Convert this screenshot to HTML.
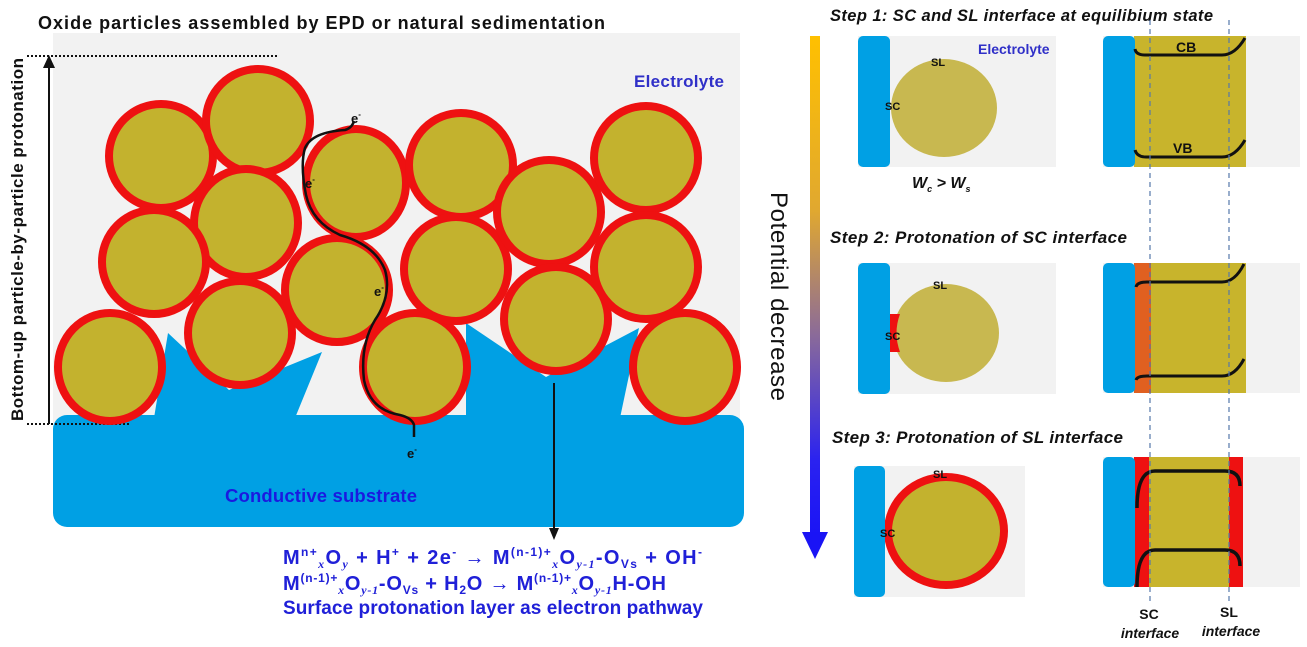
<!DOCTYPE html>
<html><head><meta charset="utf-8"><style>
html,body{margin:0;padding:0;background:#fff;}
svg{display:block;}
text{font-family:"Liberation Sans",Arial,sans-serif;}
.b{font-weight:bold;}
.it{font-style:italic;font-weight:bold;}
</style></head><body>
<svg width="1307" height="647" viewBox="0 0 1307 647" xmlns="http://www.w3.org/2000/svg">
<defs>
<linearGradient id="pg" x1="0" y1="0" x2="0" y2="1">
<stop offset="0" stop-color="#ffc000"/>
<stop offset="0.35" stop-color="#e0a830"/>
<stop offset="0.6" stop-color="#8a6a9a"/>
<stop offset="0.85" stop-color="#2a22f0"/>
<stop offset="1" stop-color="#1a14f5"/>
</linearGradient>
</defs>
<!-- LEFT PANEL -->
<rect x="53" y="33" width="687" height="390" fill="#f2f2f2"/>
<text x="38" y="29" class="b" font-size="18" textLength="567" fill="#111">Oxide particles assembled by EPD or natural sedimentation</text>
<rect x="53" y="415" width="691" height="112" rx="14" fill="#00a0e4"/>
<polygon points="154,418 168,333 229,390 322,352 295,418" fill="#00a0e4"/>
<polygon points="466,418 466,323 546,377 639,328 620,418" fill="#00a0e4"/>
<line x1="27" y1="56" x2="278" y2="56" stroke="#111" stroke-width="2" stroke-dasharray="2,2"/>
<line x1="27" y1="424" x2="130" y2="424" stroke="#111" stroke-width="2" stroke-dasharray="2,2"/>
<line x1="49" y1="424" x2="49" y2="62" stroke="#111" stroke-width="2"/>
<polygon points="49,55 43,68 55,68" fill="#111"/>
<text transform="translate(23,421) rotate(-90)" class="b" font-size="17" textLength="363" fill="#111">Bottom-up particle-by-particle protonation</text>
<text x="634" y="87" class="b" font-size="17" textLength="90" fill="#3030c8">Electrolyte</text>
<g fill="#c3b22e" stroke="#ee1111" stroke-width="8">
<ellipse cx="110" cy="367" rx="52" ry="54"/>
<ellipse cx="161" cy="156" rx="52" ry="52"/>
<ellipse cx="258" cy="121" rx="52" ry="52"/>
<ellipse cx="246" cy="223" rx="52" ry="54"/>
<ellipse cx="154" cy="262" rx="52" ry="52"/>
<ellipse cx="240" cy="333" rx="52" ry="52"/>
<ellipse cx="356" cy="183" rx="50" ry="54"/>
<ellipse cx="337" cy="290" rx="52" ry="52"/>
<ellipse cx="415" cy="367" rx="52" ry="54"/>
<ellipse cx="461" cy="165" rx="52" ry="52"/>
<ellipse cx="456" cy="269" rx="52" ry="52"/>
<ellipse cx="549" cy="212" rx="52" ry="52"/>
<ellipse cx="556" cy="319" rx="52" ry="52"/>
<ellipse cx="646" cy="158" rx="52" ry="52"/>
<ellipse cx="646" cy="267" rx="52" ry="52"/>
<ellipse cx="685" cy="367" rx="52" ry="54"/>
</g>
<path d="M414,437 L414,425 Q412,418 400,415 Q370,410 364,380 Q360,345 375,320 Q392,295 385,270 Q375,245 340,235 Q312,222 306,195 Q300,165 305,148 Q312,132 345,130 Q352,128 354,121" fill="none" stroke="#111" stroke-width="2.5"/>
<g class="b" font-size="13" fill="#111">
<text x="351" y="123">e<tspan font-size="8" dy="-6">-</tspan></text>
<text x="305" y="188">e<tspan font-size="8" dy="-6">-</tspan></text>
<text x="374" y="296">e<tspan font-size="8" dy="-6">-</tspan></text>
<text x="407" y="458">e<tspan font-size="8" dy="-6">-</tspan></text>
</g>
<text x="225" y="502" class="b" font-size="18.5" textLength="192" fill="#1a1ae0">Conductive substrate</text>
<line x1="554" y1="383" x2="554" y2="532" stroke="#111" stroke-width="2"/>
<polygon points="554,540 549,528 559,528" fill="#111"/>
<g class="b" fill="#2020d8" font-size="20">
<text x="283" y="564" textLength="419">M<tspan font-size="12" dy="-8">n+</tspan><tspan font-size="12" dy="12" font-family="Liberation Serif" font-style="italic">x</tspan><tspan dy="-4">O</tspan><tspan font-size="12" dy="4" font-family="Liberation Serif" font-style="italic">y</tspan><tspan dy="-4">  +  H</tspan><tspan font-size="12" dy="-8">+</tspan><tspan dy="8">  +  2e</tspan><tspan font-size="12" dy="-8">-</tspan><tspan dy="8">  →   M</tspan><tspan font-size="12" dy="-8">(n-1)+</tspan><tspan font-size="12" dy="12" font-family="Liberation Serif" font-style="italic">x</tspan><tspan dy="-4">O</tspan><tspan font-size="12" dy="4" font-family="Liberation Serif" font-style="italic">y-1</tspan><tspan dy="-4">-O</tspan><tspan font-size="12" dy="4">Vs</tspan><tspan dy="-4"> + OH</tspan><tspan font-size="12" dy="-8">-</tspan></text>
<text x="283" y="590" textLength="383">M<tspan font-size="12" dy="-8">(n-1)+</tspan><tspan font-size="12" dy="12" font-family="Liberation Serif" font-style="italic">x</tspan><tspan dy="-4">O</tspan><tspan font-size="12" dy="4" font-family="Liberation Serif" font-style="italic">y-1</tspan><tspan dy="-4">-O</tspan><tspan font-size="12" dy="4">Vs</tspan><tspan dy="-4"> + H</tspan><tspan font-size="12" dy="4">2</tspan><tspan dy="-4">O  →  M</tspan><tspan font-size="12" dy="-8">(n-1)+</tspan><tspan font-size="12" dy="12" font-family="Liberation Serif" font-style="italic">x</tspan><tspan dy="-4">O</tspan><tspan font-size="12" dy="4" font-family="Liberation Serif" font-style="italic">y-1</tspan><tspan dy="-4">H-OH</tspan></text>
<text x="283" y="614" font-size="19" textLength="420">Surface protonation layer as electron pathway</text>
</g>

<!-- RIGHT PANEL -->
<rect x="810" y="36" width="10" height="500" fill="url(#pg)"/>
<polygon points="802,532 828,532 815,559" fill="#1a14f5"/>
<text transform="translate(771,192) rotate(90)" font-size="24" textLength="209" fill="#111">Potential decrease</text>

<text x="830" y="21" class="it" font-size="16.5" textLength="383" fill="#111">Step 1:  SC and SL interface at equilibium state</text>
<text x="830" y="243" class="it" font-size="17" textLength="297" fill="#111">Step 2:  Protonation of SC  interface</text>
<text x="832" y="443" class="it" font-size="17" textLength="291" fill="#111">Step 3:  Protonation of SL interface</text>

<!-- panel 1 left -->
<rect x="858" y="36" width="198" height="131" fill="#f2f2f2"/>
<ellipse cx="944" cy="108" rx="53" ry="49" fill="#c8b850"/>
<rect x="858" y="36" width="32" height="131" rx="5" fill="#00a0e4"/>
<text x="978" y="54" class="b" font-size="14" fill="#3030c8">Electrolyte</text>
<text x="931" y="66" class="b" font-size="11" fill="#111">SL</text>
<text x="885" y="110" class="b" font-size="11" fill="#111">SC</text>
<text x="912" y="188" class="it" font-size="16" fill="#111">W<tspan font-size="9" dy="4">c</tspan><tspan dy="-4"> &gt; W</tspan><tspan font-size="9" dy="4">s</tspan></text>
<!-- panel 1 right -->
<rect x="1103" y="36" width="197" height="131" fill="#f2f2f2"/>
<rect x="1134" y="36" width="112" height="131" fill="#c8b42c"/>
<rect x="1103" y="36" width="32" height="131" rx="5" fill="#00a0e4"/>
<path d="M1135,49 Q1136,55 1145,55 L1222,55 Q1235,55 1245,38" fill="none" stroke="#111" stroke-width="3"/>
<path d="M1135,150 Q1137,157 1146,157 L1222,157 Q1235,157 1245,140" fill="none" stroke="#111" stroke-width="3"/>
<text x="1176" y="52" class="b" font-size="14" fill="#111">CB</text>
<text x="1173" y="153" class="b" font-size="14" fill="#111">VB</text>

<!-- panel 2 left -->
<rect x="858" y="263" width="198" height="131" fill="#f2f2f2"/>
<ellipse cx="946" cy="333" rx="53" ry="49" fill="#c8b850"/>
<path d="M900,314 Q893,333 900,352 L890,352 L890,314 Z" fill="#ee1111"/>
<rect x="858" y="263" width="32" height="131" rx="5" fill="#00a0e4"/>
<text x="933" y="289" class="b" font-size="11" fill="#111">SL</text>
<text x="885" y="340" class="b" font-size="11" fill="#111">SC</text>
<!-- panel 2 right -->
<rect x="1103" y="263" width="197" height="130" fill="#f2f2f2"/>
<rect x="1134" y="263" width="112" height="130" fill="#c8b42c"/>
<rect x="1134" y="263" width="17" height="130" fill="#e06020"/>
<rect x="1103" y="263" width="32" height="130" rx="5" fill="#00a0e4"/>
<path d="M1136,287 Q1137,282 1147,282 L1222,282 Q1235,282 1244,264" fill="none" stroke="#111" stroke-width="3"/>
<path d="M1136,380 Q1137,376 1147,376 L1222,376 Q1235,376 1244,359" fill="none" stroke="#111" stroke-width="3"/>

<!-- panel 3 left -->
<rect x="854" y="466" width="171" height="131" fill="#f2f2f2"/>
<ellipse cx="946" cy="531" rx="58" ry="54" fill="#c3b22e" stroke="#ee1111" stroke-width="8"/>
<rect x="854" y="466" width="31" height="131" rx="5" fill="#00a0e4"/>
<text x="933" y="478" class="b" font-size="11" fill="#111">SL</text>
<text x="880" y="537" class="b" font-size="11" fill="#111">SC</text>
<!-- panel 3 right -->
<rect x="1103" y="457" width="197" height="130" fill="#f2f2f2"/>
<rect x="1134" y="457" width="109" height="130" fill="#ee1111"/>
<rect x="1149" y="457" width="80" height="130" fill="#c8b42c"/>
<rect x="1103" y="457" width="32" height="130" rx="5" fill="#00a0e4"/>
<path d="M1137,508 Q1137,471 1155,471 L1225,471 Q1240,471 1240,486" fill="none" stroke="#111" stroke-width="3.5"/>
<path d="M1137,587 Q1137,550 1155,550 L1225,550 Q1240,550 1240,566" fill="none" stroke="#111" stroke-width="3.5"/>

<!-- dashed interface lines -->
<line x1="1150" y1="20" x2="1150" y2="603" stroke="#5577aa" stroke-width="1.2" stroke-dasharray="5,4"/>
<line x1="1229" y1="20" x2="1229" y2="601" stroke="#5577aa" stroke-width="1.2" stroke-dasharray="5,4"/>
<text x="1149" y="619" class="b" font-size="14" text-anchor="middle" fill="#111">SC</text>
<text x="1150" y="638" class="it" font-size="14" text-anchor="middle" fill="#111">interface</text>
<text x="1229" y="617" class="b" font-size="14" text-anchor="middle" fill="#111">SL</text>
<text x="1231" y="636" class="it" font-size="14" text-anchor="middle" fill="#111">interface</text>
</svg>
</body></html>
